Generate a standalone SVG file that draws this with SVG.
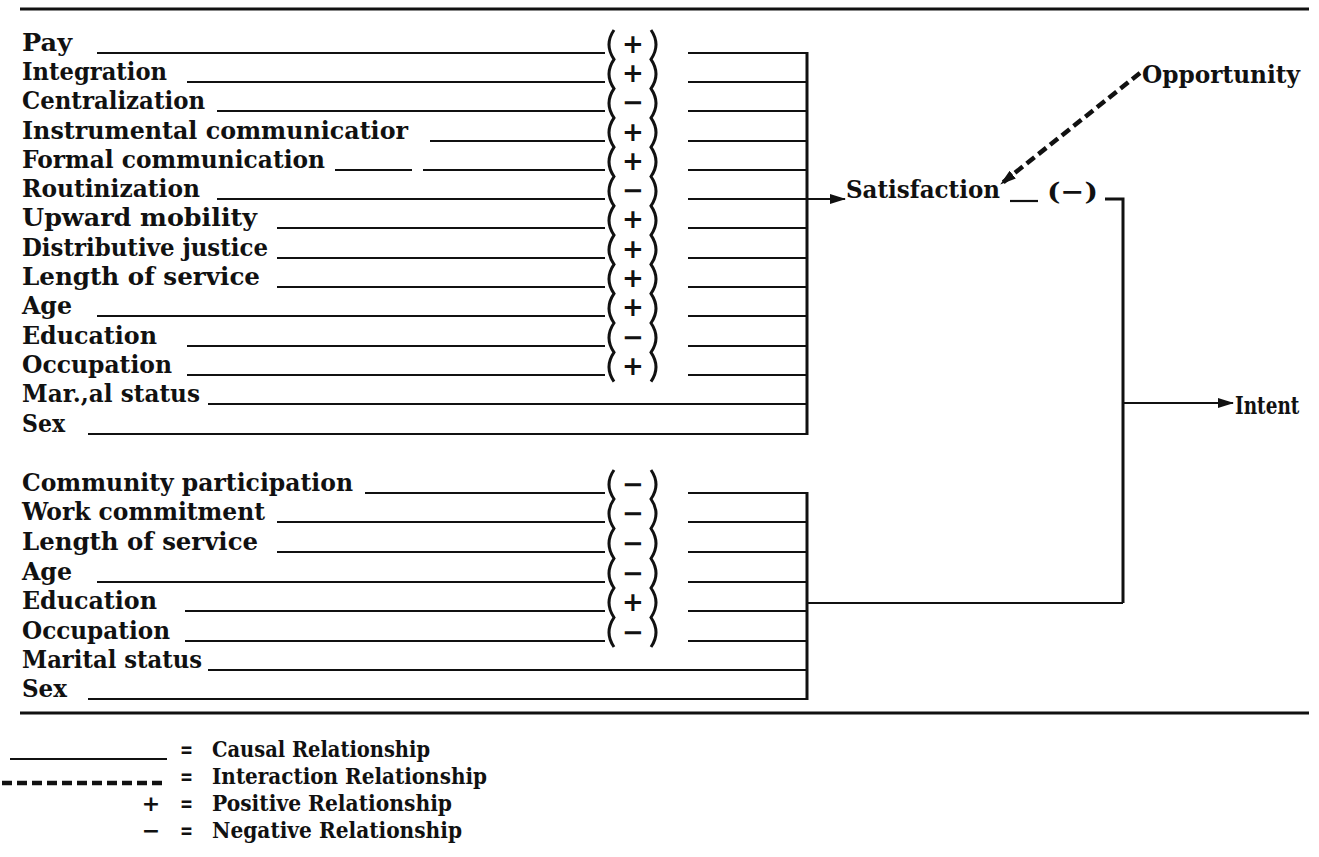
<svg xmlns="http://www.w3.org/2000/svg" width="1319" height="857" viewBox="0 0 1319 857">
<style>
.lbl{font-family:"DejaVu Serif","Liberation Serif",serif;font-weight:bold;font-size:25px;fill:#111}
.leg{font-family:"DejaVu Serif","Liberation Serif",serif;font-weight:bold;font-size:23px;fill:#111}
.sgn{font-family:"DejaVu Sans","Liberation Sans",sans-serif;font-weight:bold;font-size:26px;fill:#111;text-anchor:middle}
.lsg{font-family:"DejaVu Sans","Liberation Sans",sans-serif;font-weight:bold;font-size:22px;fill:#111;text-anchor:middle}
.ln{stroke:#111;stroke-width:2.2;fill:none}
.vl{stroke:#111;stroke-width:3;fill:none}
.br{stroke:#111;stroke-width:3;fill:none}
.rule{stroke:#111;stroke-width:3}
.dash{stroke:#111;stroke-width:4.5;fill:none;stroke-dasharray:10 5}
</style>
<defs>
<marker id="arrow" viewBox="0 0 16 10" refX="15" refY="5" markerWidth="16" markerHeight="10" markerUnits="userSpaceOnUse" orient="auto">
<path d="M0,0 L16,5 L0,10 z" fill="#111"/>
</marker>
</defs>
<rect width="1319" height="857" fill="#fff"/>
<line class="rule" x1="20" y1="9" x2="1309" y2="9"/>
<line class="rule" x1="20" y1="713" x2="1309" y2="713"/>

<g id="labels-satisfaction">
<g id="n-pay"><text class="lbl" x="22" y="51" textLength="50" lengthAdjust="spacingAndGlyphs">Pay</text></g>
<g id="n-integration"><text class="lbl" x="22" y="80" textLength="145" lengthAdjust="spacingAndGlyphs">Integration</text></g>
<g id="n-centralization"><text class="lbl" x="22" y="109" textLength="183" lengthAdjust="spacingAndGlyphs">Centralization</text></g>
<g id="n-instrumental"><text class="lbl" x="22" y="139" textLength="386" lengthAdjust="spacingAndGlyphs">Instrumental communicatior</text></g>
<g id="n-formal"><text class="lbl" x="22" y="168" textLength="303" lengthAdjust="spacingAndGlyphs">Formal communication</text></g>
<g id="n-routinization"><text class="lbl" x="22" y="197" textLength="178" lengthAdjust="spacingAndGlyphs">Routinization</text></g>
<g id="n-upward"><text class="lbl" x="22" y="226" textLength="235" lengthAdjust="spacingAndGlyphs">Upward mobility</text></g>
<g id="n-distributive"><text class="lbl" x="22" y="256" textLength="246" lengthAdjust="spacingAndGlyphs">Distributive justice</text></g>
<g id="n-length1"><text class="lbl" x="22" y="285" textLength="238" lengthAdjust="spacingAndGlyphs">Length of service</text></g>
<g id="n-age1"><text class="lbl" x="22" y="314" textLength="50" lengthAdjust="spacingAndGlyphs">Age</text></g>
<g id="n-education1"><text class="lbl" x="22" y="344" textLength="135" lengthAdjust="spacingAndGlyphs">Education</text></g>
<g id="n-occupation1"><text class="lbl" x="22" y="373" textLength="150" lengthAdjust="spacingAndGlyphs">Occupation</text></g>
<g id="n-marital1"><text class="lbl" x="22" y="402" textLength="178" lengthAdjust="spacingAndGlyphs">Mar.,al status</text></g>
<g id="n-sex1"><text class="lbl" x="22" y="432" textLength="43" lengthAdjust="spacingAndGlyphs">Sex</text></g>
</g>

<g id="labels-intent">
<g id="n-community"><text class="lbl" x="22" y="491" textLength="331" lengthAdjust="spacingAndGlyphs">Community participation</text></g>
<g id="n-work"><text class="lbl" x="22" y="520" textLength="243" lengthAdjust="spacingAndGlyphs">Work commitment</text></g>
<g id="n-length2"><text class="lbl" x="22" y="550" textLength="236" lengthAdjust="spacingAndGlyphs">Length of service</text></g>
<g id="n-age2"><text class="lbl" x="22" y="580" textLength="50" lengthAdjust="spacingAndGlyphs">Age</text></g>
<g id="n-education2"><text class="lbl" x="22" y="609" textLength="135" lengthAdjust="spacingAndGlyphs">Education</text></g>
<g id="n-occupation2"><text class="lbl" x="22" y="639" textLength="148" lengthAdjust="spacingAndGlyphs">Occupation</text></g>
<g id="n-marital2"><text class="lbl" x="22" y="668" textLength="180" lengthAdjust="spacingAndGlyphs">Marital status</text></g>
<g id="n-sex2"><text class="lbl" x="22" y="697" textLength="45" lengthAdjust="spacingAndGlyphs">Sex</text></g>
</g>

<g id="n-satisfaction"><text class="lbl" x="846" y="198" font-size="27" textLength="154" lengthAdjust="spacingAndGlyphs">Satisfaction</text></g>
<g id="n-opportunity"><text class="lbl" x="1142" y="83" font-size="26" textLength="158" lengthAdjust="spacingAndGlyphs">Opportunity</text></g>
<g id="n-intent"><text class="lbl" transform="translate(1235,414) scale(0.74,1)" x="0" y="0" font-size="27">Intent</text></g>
<g id="n-sat-sign"><text class="lbl" x="1047" y="200" font-size="26" textLength="51" lengthAdjust="spacingAndGlyphs">(−)</text></g>

<g id="signs-top">
<path class="br" d="M614,30 Q604,44.6 614,59.3 Q604,74 614,88.6 Q604,103.3 614,117.9 Q604,132.6 614,147.2 Q604,161.9 614,176.5 Q604,191.2 614,205.8 Q604,220.5 614,235.1 Q604,249.8 614,264.4 Q604,279.1 614,293.7 Q604,308.4 614,323 Q604,337.7 614,352.3 Q604,367 614,381.6"/>
<path class="br" d="M651,30 Q661,44.6 651,59.3 Q661,74 651,88.6 Q661,103.3 651,117.9 Q661,132.6 651,147.2 Q661,161.9 651,176.5 Q661,191.2 651,205.8 Q661,220.5 651,235.1 Q661,249.8 651,264.4 Q661,279.1 651,293.7 Q661,308.4 651,323 Q661,337.7 651,352.3 Q661,367 651,381.6"/>
<text class="sgn" x="633" y="53">+</text>
<text class="sgn" x="633" y="82">+</text>
<text class="sgn" x="633" y="111">−</text>
<text class="sgn" x="633" y="141">+</text>
<text class="sgn" x="633" y="170">+</text>
<text class="sgn" x="633" y="199">−</text>
<text class="sgn" x="633" y="228">+</text>
<text class="sgn" x="633" y="258">+</text>
<text class="sgn" x="633" y="287">+</text>
<text class="sgn" x="633" y="316">+</text>
<text class="sgn" x="633" y="346">−</text>
<text class="sgn" x="633" y="375">+</text>
</g>

<g id="signs-bottom">
<path class="br" d="M614,470 Q604,484.5 614,499 Q604,513.5 614,528.5 Q604,543.5 614,558.5 Q604,573.5 614,588 Q604,602.5 614,617.5 Q604,632.5 614,647"/>
<path class="br" d="M651,470 Q661,484.5 651,499 Q661,513.5 651,528.5 Q661,543.5 651,558.5 Q661,573.5 651,588 Q661,602.5 651,617.5 Q661,632.5 651,647"/>
<text class="sgn" x="633" y="493">−</text>
<text class="sgn" x="633" y="522">−</text>
<text class="sgn" x="633" y="552">−</text>
<text class="sgn" x="633" y="582">−</text>
<text class="sgn" x="633" y="611">+</text>
<text class="sgn" x="633" y="641">−</text>
</g>

<g id="connectors">
<line class="ln" x1="97" y1="53" x2="605" y2="53"/>
<line class="ln" x1="187" y1="82" x2="605" y2="82"/>
<line class="ln" x1="217" y1="111" x2="605" y2="111"/>
<line class="ln" x1="430" y1="141" x2="605" y2="141"/>
<line class="ln" x1="335" y1="170" x2="412" y2="170"/>
<line class="ln" x1="423" y1="170" x2="605" y2="170"/>
<line class="ln" x1="217" y1="199" x2="605" y2="199"/>
<line class="ln" x1="277" y1="228" x2="605" y2="228"/>
<line class="ln" x1="277" y1="258" x2="605" y2="258"/>
<line class="ln" x1="277" y1="287" x2="605" y2="287"/>
<line class="ln" x1="97" y1="316" x2="605" y2="316"/>
<line class="ln" x1="187" y1="346" x2="605" y2="346"/>
<line class="ln" x1="187" y1="375" x2="605" y2="375"/>
<line class="ln" x1="208" y1="404" x2="807" y2="404"/>
<line class="ln" x1="88" y1="434" x2="807" y2="434"/>
<line class="ln" x1="688" y1="53" x2="807" y2="53"/>
<line class="ln" x1="688" y1="82" x2="807" y2="82"/>
<line class="ln" x1="688" y1="111" x2="807" y2="111"/>
<line class="ln" x1="688" y1="141" x2="807" y2="141"/>
<line class="ln" x1="688" y1="170" x2="807" y2="170"/>
<line class="ln" x1="688" y1="199" x2="807" y2="199"/>
<line class="ln" x1="688" y1="228" x2="807" y2="228"/>
<line class="ln" x1="688" y1="258" x2="807" y2="258"/>
<line class="ln" x1="688" y1="287" x2="807" y2="287"/>
<line class="ln" x1="688" y1="316" x2="807" y2="316"/>
<line class="ln" x1="688" y1="346" x2="807" y2="346"/>
<line class="ln" x1="688" y1="375" x2="807" y2="375"/>
<line class="vl" x1="807" y1="52" x2="807" y2="435"/>
<line class="ln" x1="807" y1="199" x2="845" y2="199" marker-end="url(#arrow)"/>
<line class="ln" x1="365" y1="493" x2="605" y2="493"/>
<line class="ln" x1="277" y1="522" x2="605" y2="522"/>
<line class="ln" x1="277" y1="552" x2="605" y2="552"/>
<line class="ln" x1="97" y1="582" x2="605" y2="582"/>
<line class="ln" x1="185" y1="611" x2="605" y2="611"/>
<line class="ln" x1="185" y1="641" x2="605" y2="641"/>
<line class="ln" x1="208" y1="670" x2="807" y2="670"/>
<line class="ln" x1="88" y1="699" x2="807" y2="699"/>
<line class="ln" x1="688" y1="493" x2="807" y2="493"/>
<line class="ln" x1="688" y1="522" x2="807" y2="522"/>
<line class="ln" x1="688" y1="552" x2="807" y2="552"/>
<line class="ln" x1="688" y1="582" x2="807" y2="582"/>
<line class="ln" x1="688" y1="611" x2="807" y2="611"/>
<line class="ln" x1="688" y1="641" x2="807" y2="641"/>
<line class="vl" x1="807" y1="492" x2="807" y2="700"/>
<line class="ln" x1="807" y1="603" x2="1123" y2="603"/>
<line class="ln" x1="1010" y1="201" x2="1038" y2="201"/>
<path class="vl" d="M1105,199 H1123 V603"/>
<line class="ln" x1="1123" y1="403" x2="1233" y2="403" marker-end="url(#arrow)"/>
<line class="dash" x1="1140" y1="73" x2="1001" y2="184" marker-end="url(#arrow)"/>
</g>

<g id="legend">
<line class="ln" x1="10" y1="759" x2="167" y2="759"/>
<text class="leg" x="180" y="757" textLength="13" lengthAdjust="spacingAndGlyphs">=</text>
<text class="leg" x="212" y="757" textLength="218" lengthAdjust="spacingAndGlyphs">Causal Relationship</text>
<line class="dash" x1="2" y1="783" x2="167" y2="783" stroke-width="3.5" stroke-dasharray="11 4"/>
<text class="leg" x="180" y="784" textLength="13" lengthAdjust="spacingAndGlyphs">=</text>
<text class="leg" x="212" y="784" textLength="275" lengthAdjust="spacingAndGlyphs">Interaction Relationship</text>
<text class="lsg" x="151" y="811">+</text>
<text class="leg" x="180" y="811" textLength="13" lengthAdjust="spacingAndGlyphs">=</text>
<text class="leg" x="212" y="811" textLength="240" lengthAdjust="spacingAndGlyphs">Positive Relationship</text>
<text class="lsg" x="151" y="838">−</text>
<text class="leg" x="180" y="838" textLength="13" lengthAdjust="spacingAndGlyphs">=</text>
<text class="leg" x="212" y="838" textLength="250" lengthAdjust="spacingAndGlyphs">Negative Relationship</text>
</g>
</svg>
